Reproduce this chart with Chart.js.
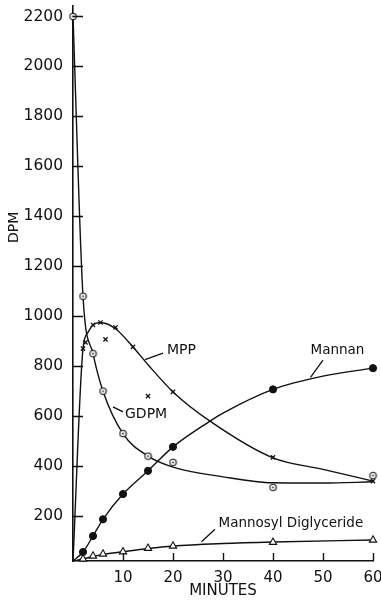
<!DOCTYPE html>
<html><head><meta charset="utf-8">
<script src="https://cdn.jsdelivr.net/npm/chart.js@4.4.1/dist/chart.umd.min.js"></script>
<style>html,body{margin:0;padding:0;background:#fff;}#wrap{width:381px;height:601px;}</style>
</head><body><div id="wrap"><canvas id="c" width="381" height="601"></canvas></div>
<script>
// ---- Data ----
const gdpmMinutes = [0, 2, 4, 6, 10, 15, 20, 40, 60];
const gdpmDpm     = [2200, 1080, 850, 700, 530, 440, 415, 315, 362];
const mppMinutes  = [2, 2.5, 4, 5.5, 6.5, 8.5, 12, 15, 20, 40, 60];
const mppDpm      = [870, 895, 965, 975, 907, 955, 877, 680, 697, 435, 340];
const mannanMinutes = [2, 4, 6, 10, 15, 20, 40, 60];
const mannanDpm     = [56, 120, 187, 288, 381, 477, 707, 792];
const mdgMinutes  = [2, 4, 6, 10, 15, 20, 40, 60];
const mdgDpm      = [28, 40, 48, 57, 71, 80, 95, 104];

// fitted curves as drawn in the figure
const gdpmCurveMinutes = [0, 2, 4, 6, 10, 15, 20, 30, 40, 50, 60];
const gdpmCurveDpm     = [2200, 1080, 850, 700, 530, 440, 396, 357, 333, 332, 337];
const mppCurveMinutes  = [0, 2, 3, 4, 5.5, 8.5, 12, 15, 20, 27.4, 40, 50, 60];
const mppCurveDpm      = [20, 870, 935, 965, 975, 950, 877, 806, 697, 580, 433, 387, 340];
const mannanCurveMinutes = [0, 2, 4, 6, 10, 15, 20, 27.4, 30, 40, 50, 60];
const mannanCurveDpm     = [20, 56, 120, 187, 288, 381, 477, 580, 612, 707, 760, 792];
const mdgCurveMinutes = [0, 2, 4, 6, 10, 15, 20, 30, 40, 60];
const mdgCurveDpm     = [20, 28, 38, 46, 57, 70, 80, 90, 96, 104];

const xTicks = [10, 20, 30, 40, 50, 60];
const yTicks = [200, 400, 600, 800, 1000, 1200, 1400, 1600, 1800, 2000, 2200];

const seriesLabels = ['GDPM', 'MPP', 'Mannan', 'Mannosyl Diglyceride'];

// ---- helpers ----
const pts = (xs, ys) => xs.map((x, i) => ({x: x, y: ys[i]}));
const INK = '#111';

// dotted open circle marker
const dotCircle = (() => {
  const c = document.createElement('canvas'); c.width = 9; c.height = 9;
  const g = c.getContext('2d');
  g.fillStyle = '#fff'; g.strokeStyle = INK; g.lineWidth = 1.1;
  g.beginPath(); g.arc(4.5, 4.5, 3.2, 0, Math.PI * 2); g.fill(); g.stroke();
  g.fillStyle = INK; g.beginPath(); g.arc(4.5, 4.5, 0.9, 0, Math.PI * 2); g.fill();
  return c;
})();

const curve = (label, xs, ys) => ({
  label: label + ' curve', data: pts(xs, ys), showLine: true, pointRadius: 0,
  borderColor: INK, borderWidth: 1.4, cubicInterpolationMode: 'monotone',
  fill: false, clip: false, order: 2
});

const notes = [
  {text: 'MPP', x: 18.8, y: 864, size: 14, line: [14.4, 826, 18.0, 852]},
  {text: 'GDPM', x: 10.4, y: 608, size: 14, line: [8.0, 637, 10.0, 617]},
  {text: 'Mannan', x: 47.5, y: 861, size: 13.5, line: [50.0, 824, 47.5, 755]},
  {text: 'Mannosyl Diglyceride', x: 29.1, y: 171, size: 13.5, line: [28.4, 147, 25.7, 97]}
];

const notesPlugin = {
  id: 'notes',
  afterDraw(chart) {
    const {ctx, scales: {x, y}} = chart;
    ctx.save();
    ctx.fillStyle = INK; ctx.strokeStyle = INK; ctx.lineWidth = 1.4;
    // inward tick marks, from the scales' own ticks
    ctx.beginPath();
    y.ticks.forEach(t => {
      const py = Math.round(y.getPixelForValue(t.value)) + 0.5;
      ctx.moveTo(x.left, py); ctx.lineTo(x.left + 10, py);
    });
    x.ticks.forEach(t => {
      const px = Math.round(x.getPixelForValue(t.value)) + 0.5;
      ctx.moveTo(px, y.bottom); ctx.lineTo(px, y.bottom - 8);
    });
    ctx.stroke();
    ctx.lineWidth = 1.3;
    notes.forEach(n => {
      ctx.font = n.size + 'px "DejaVu Sans"';
      ctx.textAlign = 'left'; ctx.textBaseline = 'middle';
      ctx.fillText(n.text, x.getPixelForValue(n.x), y.getPixelForValue(n.y));
      ctx.beginPath();
      ctx.moveTo(x.getPixelForValue(n.line[0]), y.getPixelForValue(n.line[1]));
      ctx.lineTo(x.getPixelForValue(n.line[2]), y.getPixelForValue(n.line[3]));
      ctx.stroke();
    });
    // y axis title
    ctx.font = '14px "DejaVu Sans"';
    ctx.translate(14, y.getPixelForValue(1356));
    ctx.rotate(-Math.PI / 2);
    ctx.textAlign = 'center'; ctx.textBaseline = 'middle';
    ctx.fillText('DPM', 0, 0);
    ctx.restore();
  }
};

new Chart(document.getElementById('c'), {
  type: 'scatter',
  data: {
    datasets: [
      curve(seriesLabels[0], gdpmCurveMinutes, gdpmCurveDpm),
      curve(seriesLabels[1], mppCurveMinutes, mppCurveDpm),
      curve(seriesLabels[2], mannanCurveMinutes, mannanCurveDpm),
      curve(seriesLabels[3], mdgCurveMinutes, mdgCurveDpm),
      {label: seriesLabels[0], data: pts(gdpmMinutes, gdpmDpm), pointStyle: dotCircle,
       pointRadius: 4.5, clip: false, order: 1},
      {label: seriesLabels[1], data: pts(mppMinutes, mppDpm), pointStyle: 'crossRot',
       pointRadius: 3, borderColor: INK, borderWidth: 1.3, clip: false, order: 1},
      {label: seriesLabels[2], data: pts(mannanMinutes, mannanDpm), pointStyle: 'circle',
       pointRadius: 3.6, backgroundColor: INK, borderColor: INK, borderWidth: 1, clip: false, order: 1},
      {label: seriesLabels[3], data: pts(mdgMinutes, mdgDpm), pointStyle: 'triangle',
       pointRadius: 4.2, backgroundColor: '#fff', borderColor: INK, borderWidth: 1.1, clip: false, order: 1}
    ]
  },
  options: {
    responsive: false, animation: false, devicePixelRatio: 1,
    layout: {padding: {top: 5, right: 8, bottom: 0, left: 0}},
    plugins: {legend: {display: false}, tooltip: {enabled: false}},
    scales: {
      x: {
        type: 'linear', min: 0, max: 60,
        afterBuildTicks: s => { s.ticks = xTicks.map(v => ({value: v})); },
        afterFit: s => { s.height = 40; s.paddingLeft = 0; s.paddingRight = 8; },
        grid: {drawOnChartArea: false, drawTicks: false},
        border: {display: true, color: INK, width: 1.6},
        ticks: {padding: 8, color: INK, font: {family: 'DejaVu Sans', size: 15}, maxRotation: 0,
                callback: v => String(v)},
        title: {display: true, text: 'MINUTES', color: INK, font: {family: 'DejaVu Sans', size: 15}, padding: {top: 0, bottom: 1}}
      },
      y: {
        type: 'linear', min: 20, max: 2244,
        afterBuildTicks: s => { s.ticks = yTicks.map(v => ({value: v})); },
        afterFit: s => { s.width = 73; s.paddingTop = 0; s.paddingBottom = 0; },
        grid: {drawOnChartArea: false, drawTicks: false},
        border: {display: true, color: INK, width: 1.6},
        ticks: {padding: 10, color: INK, font: {family: 'DejaVu Sans', size: 15.5},
                callback: v => String(v)}
      }
    }
  },
  plugins: [notesPlugin]
});
</script></body></html>
